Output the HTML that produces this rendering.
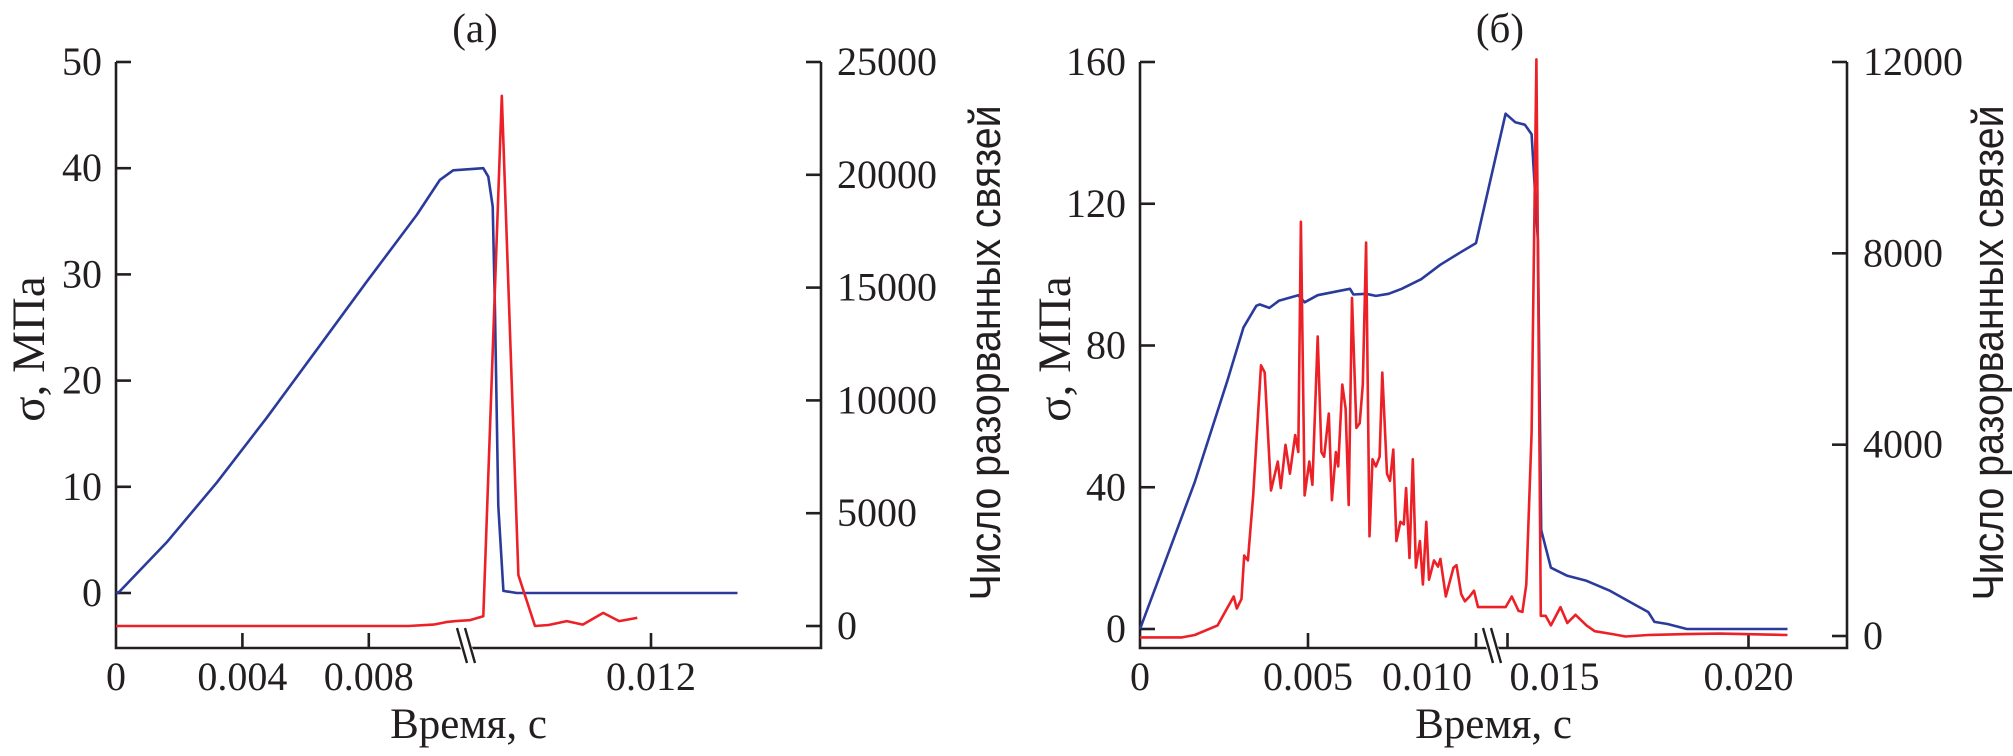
<!DOCTYPE html>
<html><head><meta charset="utf-8">
<style>
html,body{margin:0;padding:0;background:#fff;}
svg{display:block;font-family:"Liberation Serif","DejaVu Serif",serif;}
text{fill:#231f20;}
</style></head>
<body>
<svg id="fig" width="2013" height="756" viewBox="0 0 2013 756" xmlns="http://www.w3.org/2000/svg">
<g id="chartA"></g>
<g id="chartB"></g>
</svg>
<script>
// ---- Chart (a) data ----
const aStressTime = [0,0.0001,0.0016,0.00319,0.00477,0.00635,0.00793,0.00952,0.01025,0.01067,0.011263,0.011285,0.011304,0.011314,0.011329,0.011351,0.01141,0.01238];
const aStressVal = [0,0.1,4.76,10.4,16.5,22.9,29.3,35.6,38.9,39.8,40.0,39.2,36.4,27,8.2,0.2,0,0];
const aBondTime = [0,0.00925,0.01005,0.01045,0.01075,0.01119,0.011263,0.011344,0.011417,0.01149,0.01155,0.01163,0.01170,0.01179,0.01186,0.01194];
const aBondVal = [0,0,64,172,215,258,429,23500,2250,0,43,215,64,579,215,365];
const aYTicks = [0,10,20,30,40,50];
const aY2Ticks = [0,5000,10000,15000,20000,25000];
const aXTicks = [0,0.004,0.008,0.012];
const aXLabels = ["0","0.004","0.008","0.012"];
const aXAnchors = ["middle","middle","middle","middle"];

// ---- Chart (b) data ----
const bStressTime = [0,0.00067,0.00163,0.0026,0.00308,0.00346,0.00356,0.00385,0.00413,0.00471,0.0049,0.00529,0.00587,0.00625,0.00635,0.00673,0.00702,0.0074,0.00779,0.00837,0.00894,0.00952,0.0100,0.01496,0.01516,0.01536,0.0155,0.01563,0.0157,0.0159,0.01624,0.01664,0.01711,0.01765,0.01792,0.01805,0.01832,0.01872,0.02081];
const bStressVal = [0,17,41.5,70.1,85.1,91.2,91.6,90.6,92.6,94.2,92.2,94.2,95.3,96,94.4,94.6,94,94.6,96,98.7,102.8,106.2,108.9,145.4,143,142.3,139.6,109.6,27.9,17.3,15,13.6,10.9,6.8,4.8,2,1.4,0,0];
const bBondTimeMs = [0,1.25,1.63,2.31,2.79,2.88,3.02,3.10,3.21,3.37,3.60,3.71,3.90,4.10,4.19,4.33,4.46,4.62,4.71,4.79,4.90,5.04,5.13,5.29,5.40,5.48,5.62,5.71,5.83,5.90,6.02,6.12,6.21,6.31,6.44,6.54,6.63,6.73,6.83,6.92,7.02,7.13,7.21,7.35,7.44,7.54,7.63,7.75,7.85,7.92,8.02,8.12,8.21,8.33,8.42,8.52,8.60,8.75,8.87,8.94,9.10,9.33,9.42,9.56,9.67,9.81,9.94,10.06,14.96,15.09,15.23,15.31,15.39,15.50,15.60,15.69,15.79,15.90,16.10,16.24,16.41,16.64,16.81,17.18,17.45,17.92,18.72,19.40,20.81];
const bBondVal = [-30,-30,20,222,826,574,775,1682,1581,2940,5659,5508,3041,3645,3091,3998,3394,4199,3847,8660,2940,3645,3162,6264,3847,3746,4652,2840,3847,3545,5257,4753,2739,7069,4350,4451,5257,8227,2084,3696,3545,3746,5508,3394,3243,3897,1984,2387,2336,3091,1631,3696,1430,1984,1077,2387,1178,1581,1450,1611,826,1430,1480,876,725,826,947,604,604,826,524,504,1077,4250,12054,423,423,222,604,272,443,222,101,40,-10,20,40,50,20];
const bYTicks = [0,40,80,120,160];
const bY2Ticks = [0,4000,8000,12000];
const bXTicks = [0,0.005,0.010,0.015,0.020];
const bXLabels = ["0","0.005","0.010","0.015","0.020"];
const bXAnchors = ["middle","middle","end","start","middle"];

const NS = "http://www.w3.org/2000/svg";
function mk(parent, tag, attrs, txt){
  const e = document.createElementNS(NS, tag);
  for (const k in attrs) e.setAttribute(k, attrs[k]);
  if (txt !== undefined) e.textContent = txt;
  parent.appendChild(e);
  return e;
}
const BLUE = "#2b3b9c", RED = "#ec2127", AX = "#231f20";

function drawChart(g, cfg){
  const {x, y, y2, L, R, T, B, yTicks, y2Ticks, xTicks, xLabels, xAnchors, brk, title, titleX, ylabX, y2labX, sT, sV, bT, bV} = cfg;
  const ax = mk(g,'path',{d:`M${L},${T} L${L},${B} L${R},${B} L${R},${T}`,fill:'none',stroke:AX,'stroke-width':2.6});
  
  
  yTicks.forEach(v=>{
    const yy = y(v);
    const t = mk(g,'line',{x1:L,x2:L+15,y1:yy,y2:yy,stroke:AX,'stroke-width':2.6});
    
    
    const lb = mk(g,'text',{x:L-14,y:yy+13,'font-size':40,'text-anchor':'end'},String(v));
    
    
  });
  y2Ticks.forEach(v=>{
    const yy = y2(v);
    const t = mk(g,'line',{x1:R-15,x2:R,y1:yy,y2:yy,stroke:AX,'stroke-width':2.6});
    
    
    const lb = mk(g,'text',{x:R+16,y:yy+13,'font-size':40,'text-anchor':'start'},String(v));
    
    
  });
  xTicks.forEach((v,i)=>{
    const xx = x(v);
    if (i>0){
      const t = mk(g,'line',{x1:xx,x2:xx,y1:B,y2:B-15,stroke:AX,'stroke-width':2.6});
      
      
    }
    const anc = xAnchors[i];
    const lx = anc==='end' ? xx-4 : (anc==='start' ? xx+2 : xx);
    const lb = mk(g,'text',{x:lx,y:690,'font-size':40,'text-anchor':anc},xLabels[i]);
    
    
  });
  const gap = mk(g,'polygon',{points:`${brk-7},${B-3} ${brk+5},${B-3} ${brk+8},${B+3} ${brk-4},${B+3}`,fill:'#fff'});
  
  
  [[-9,0],[-1,8]].forEach(o=>{
    const bl = mk(g,'line',{x1:brk+o[0],y1:B-20,x2:brk+o[0]+10,y2:B+15,stroke:AX,'stroke-width':2.4});
    
    
  });
  const sp = sT.map((t,i)=>`${x(t).toFixed(1)},${y(sV[i]).toFixed(1)}`).join(' ');
  const s1 = mk(g,'polyline',{points:sp,fill:'none',stroke:BLUE,'stroke-width':2.6,'stroke-linejoin':'round'});
  
  
  const bp = bT.map((t,i)=>`${x(t).toFixed(1)},${y2(bV[i]).toFixed(1)}`).join(' ');
  const s2 = mk(g,'polyline',{points:bp,fill:'none',stroke:RED,'stroke-width':2.6,'stroke-linejoin':'round'});
  
  
  const tt = mk(g,'text',{x:titleX,y:42,'font-size':41,'text-anchor':'middle'},title);
  
  
  const xl = mk(g,'text',{x:(L+R)/2,y:738,'font-size':43,'text-anchor':'middle'},'Время, с');
  
  
  const yl = mk(g,'text',{x:0,y:0,'font-size':47,'text-anchor':'middle',transform:`translate(${ylabX},349) rotate(-90)`},'σ, МПа');
  
  
  const y2l = mk(g,'text',{x:0,y:0,'font-size':44,'text-anchor':'middle','font-family':'Liberation Sans, sans-serif',textLength:495,lengthAdjust:'spacingAndGlyphs',transform:`translate(${y2labX},353) rotate(-90)`},'Число разорванных связей');
  
  
}

const xA = t => t <= 0.0112 ? 116 + t*31600 : 469 + (t-0.0112)*227500;
const yA = v => 593 - v*(593-62)/50;
const yA2 = v => 626 - v*(626-62)/25000;
drawChart(document.getElementById('chartA'),{
  x:xA,y:yA,y2:yA2,L:116,R:821,T:62,B:648,yTicks:aYTicks,y2Ticks:aY2Ticks,xTicks:aXTicks,xLabels:aXLabels,xAnchors:aXAnchors,
  brk:466,title:'(а)',titleX:475,ylabX:44,y2labX:1000,sT:aStressTime,sV:aStressVal,bT:aBondTime,bV:aBondVal});

const xB = t => t <= 0.0125 ? 1140 + t*33600 : 1507.5 + (t-0.015)*48200;
const yB = v => 629 - v*(629-62)/160;
const yB2 = v => 636 - v*(636-62)/12000;
const bBondTime = bBondTimeMs.map(v=>v/1000);
drawChart(document.getElementById('chartB'),{
  x:xB,y:yB,y2:yB2,L:1140,R:1847,T:62,B:648,yTicks:bYTicks,y2Ticks:bY2Ticks,xTicks:bXTicks,xLabels:bXLabels,xAnchors:bXAnchors,
  brk:1492,title:'(б)',titleX:1500,ylabX:1070,y2labX:2003,sT:bStressTime,sV:bStressVal,bT:bBondTime,bV:bBondVal});
</script>
</body></html>
